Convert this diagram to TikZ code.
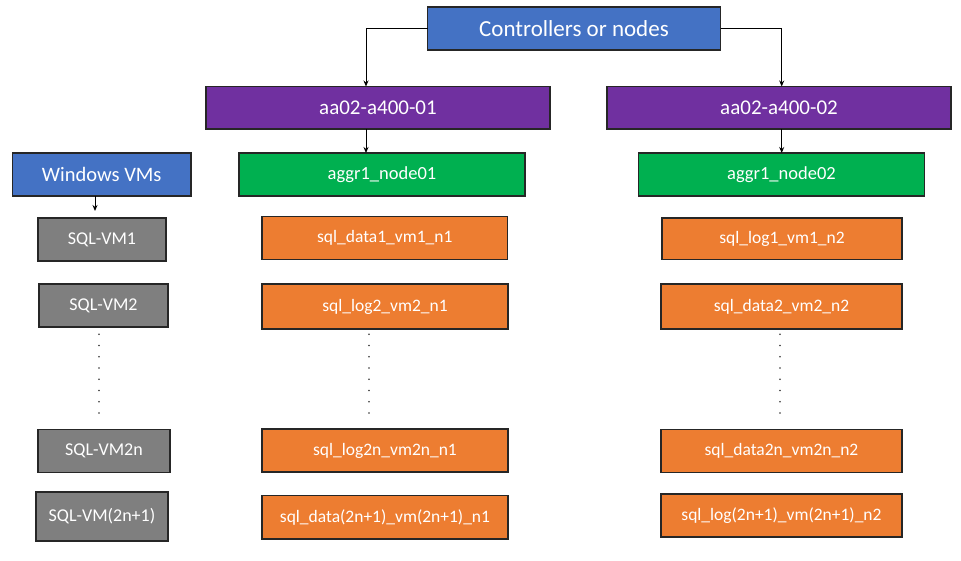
\documentclass[tikz,border=0pt]{standalone}
\usepackage{fontspec}
\setmainfont{Carlito}
\usetikzlibrary{arrows.meta}
\definecolor{cblue}{HTML}{4472C4}
\definecolor{cpurple}{HTML}{7030A0}
\definecolor{cgreen}{HTML}{00B050}
\definecolor{corange}{HTML}{ED7D31}
\definecolor{cgray}{HTML}{7F7F7F}
\newcommand\mybox[7]{%
  \pgfmathsetmacro\bxcx{(#2+#4)/2}%
  \pgfmathsetmacro\bxcy{(#3+#5)/2}%
  \pgfmathsetmacro\bxw{#4-#2}%
  \pgfmathsetmacro\bxh{#5-#3}%
  \node[boxbase,#6,minimum width=\bxw pt,minimum height=\bxh pt] (#1) at (\bxcx,\bxcy) {#7};}
\begin{document}
\begin{tikzpicture}[x=1pt,y=-1pt,
  boxbase/.style={draw=black!85,line width=1.1pt,inner sep=0pt,outer sep=0pt,text=white,anchor=center},
  ctrlbox/.style={fill=cblue,font=\fontsize{23}{27}\selectfont},
  winbox/.style={fill=cblue,font=\fontsize{20.5}{24}\selectfont},
  purplebox/.style={fill=cpurple,font=\fontsize{21}{25}\selectfont},
  greenbox/.style={fill=cgreen,font=\fontsize{18.5}{22}\selectfont},
  vmbox/.style={fill=cgray,font=\fontsize{18}{22}\selectfont},
  orangebox/.style={fill=corange,font=\fontsize{17.5}{21}\selectfont},
  arr/.style={line width=1pt,-{Stealth[length=6pt,width=5pt]}},
  dotmark/.style={fill=black!80,draw=none}
]
\useasboundingbox (0,0) rectangle (961,561);
\fill[white] (0,0) rectangle (961,561);
\mybox{ctrl}{427.5}{7}{720.5}{50}{ctrlbox}{Controllers or nodes}
\mybox{p1}{206}{86.5}{550}{129}{purplebox}{aa02-a400-01}
\mybox{p2}{607}{86.5}{951}{129}{purplebox}{aa02-a400-02}
\mybox{win}{12.5}{153}{191}{196}{winbox}{Windows VMs}
\mybox{g1}{239}{153}{525}{196}{greenbox}{aggr1\_node01}
\mybox{g2}{638.5}{153}{924.5}{196}{greenbox}{aggr1\_node02}
\mybox{vm1}{38}{218}{166}{261}{vmbox}{SQL-VM1}
\mybox{vm2}{39}{284}{168}{327}{vmbox}{SQL-VM2}
\mybox{vm2n}{38}{429.5}{170}{472.5}{vmbox}{SQL-VM2n}
\mybox{vm2n1}{36}{492}{168}{541}{vmbox}{SQL-VM(2n+1)}
\mybox{o1a}{262}{216.5}{507.5}{259.5}{orangebox}{sql\_data1\_vm1\_n1}
\mybox{o1b}{262}{284}{508}{329}{orangebox}{sql\_log2\_vm2\_n1}
\mybox{o1c}{262}{429}{508}{472}{orangebox}{sql\_log2n\_vm2n\_n1}
\mybox{o1d}{262}{495.5}{508}{539}{orangebox}{sql\_data(2n+1)\_vm(2n+1)\_n1}
\mybox{o2a}{662}{218}{902}{259.5}{orangebox}{sql\_log1\_vm1\_n2}
\mybox{o2b}{661}{284}{902}{329}{orangebox}{sql\_data2\_vm2\_n2}
\mybox{o2c}{661}{429.5}{902}{472.5}{orangebox}{sql\_data2n\_vm2n\_n2}
\mybox{o2d}{661}{494}{902}{537}{orangebox}{sql\_log(2n+1)\_vm(2n+1)\_n2}
% connector columns
\coordinate (xa) at (366,0);
\coordinate (xb) at (781.7,0);
\coordinate (xw) at (95,0);
\coordinate (wend) at (95,211);
\draw[arr] (ctrl.west) -| (p1.north -| xa);
\draw[arr] (ctrl.east) -| (p2.north -| xb);
\draw[arr] (p1.south -| xa) -- (g1.north -| xa);
\draw[arr] (p2.south -| xb) -- (g2.north -| xb);
\draw[arr] (win.south -| xw) -- (wend);
% dots
\foreach \i in {0,...,7}{
  \pgfmathsetmacro\dy{334.3+\i*11.24}
  \fill[dotmark] (99,\dy) circle (0.9);
  \fill[dotmark] (369,\dy) circle (0.9);
  \fill[dotmark] (780,\dy) circle (0.9);
}
\end{tikzpicture}
\end{document}
